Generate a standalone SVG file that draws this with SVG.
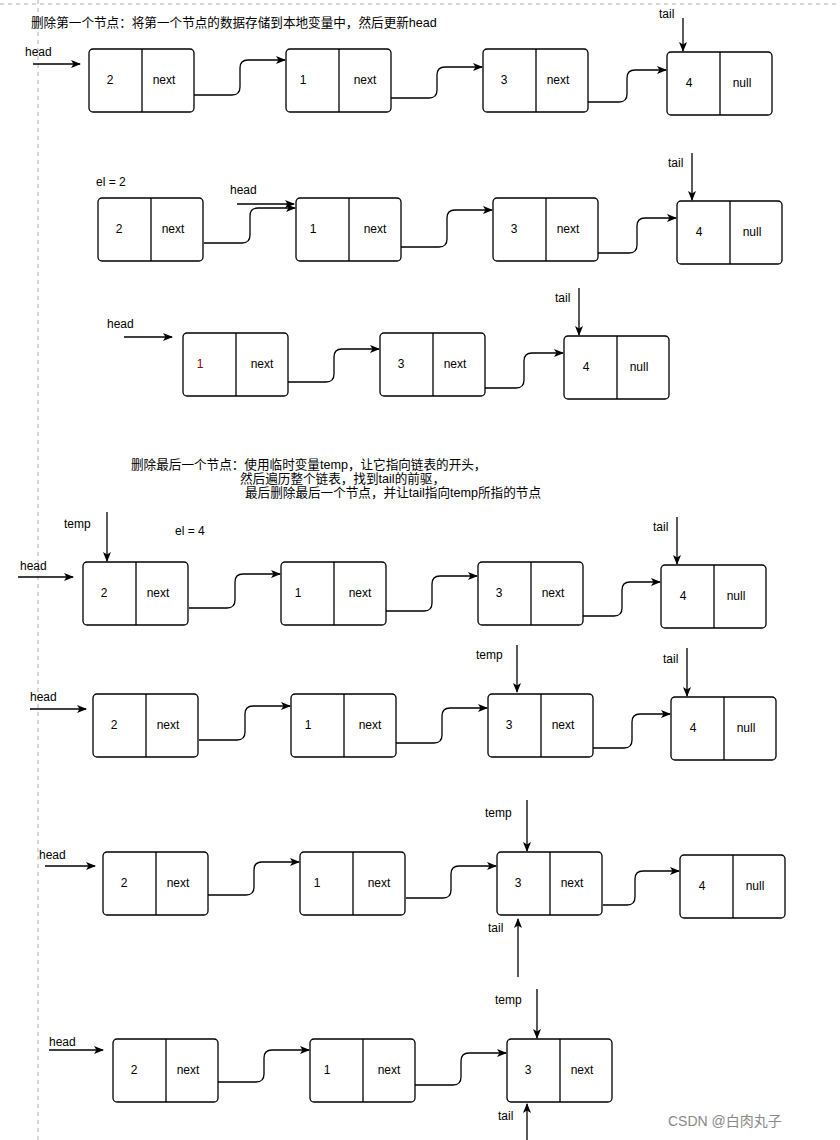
<svg xmlns="http://www.w3.org/2000/svg" width="840" height="1140" viewBox="0 0 840 1140">
<style>
.n{fill:#fff;stroke:#000;stroke-width:1.3}
.d{stroke:#000;stroke-width:1.3}
text{font-family:"Liberation Sans",Arial,"Noto Sans CJK SC",sans-serif;font-size:12px;fill:#000}
.t{font-size:12.6px}
.c{text-anchor:middle}
.e{fill:none;stroke:#000;stroke-width:1.3;marker-end:url(#a)}
.g{fill:none;stroke:#ccc;stroke-width:1.5;stroke-dasharray:4 4}
</style>
<defs>
<marker id="a" markerWidth="10" markerHeight="8" refX="9" refY="4" orient="auto" markerUnits="userSpaceOnUse"><path d="M0,0 L10,4 L0,8 L2.5,4 Z"/></marker>
<g id="nd"><rect class="n" x="0" y="0" width="105" height="63" rx="4"/><line class="d" x1="53" y1="0" x2="53" y2="63"/></g>
</defs>
<rect width="840" height="1140" fill="#fff"/>
<line class="g" x1="38" y1="0" x2="38" y2="1140"/>
<line class="g" x1="0" y1="4" x2="840" y2="4"/>
<text class="t" x="31" y="27">删除第一个节点：将第一个节点的数据存储到本地变量中，然后更新head</text>
<text class="t" x="131" y="469">删除最后一个节点：使用临时变量temp，让它指向链表的开头，</text>
<text class="t" x="240" y="483">然后遍历整个链表，找到tail的前驱，</text>
<text class="t" x="245" y="497">最后删除最后一个节点，并让tail指向temp所指的节点</text>
<text x="96" y="186">el = 2</text>
<text x="175" y="535">el = 4</text>
<g id="connectors">
<path class="e" d="M194,95 H232 Q240,95 240,87 V68 Q240,60 248,60 H285"/>
<path class="e" d="M391,98 H429 Q437,98 437,90 V75 Q437,67 445,67 H482"/>
<path class="e" d="M588,102 H619 Q627,102 627,94 V78 Q627,70 635,70 H666"/>
<path class="e" d="M204,243 H242 Q250,243 250,235 V216 Q250,208 258,208 H295"/>
<path class="e" d="M401,247 H439 Q447,247 447,239 V218 Q447,210 455,210 H492"/>
<path class="e" d="M598,253 H629 Q637,253 637,245 V226 Q637,218 645,218 H676"/>
<path class="e" d="M288,382 H326 Q334,382 334,374 V357 Q334,349 342,349 H379"/>
<path class="e" d="M485,388 H516 Q524,388 524,380 V361 Q524,353 532,353 H563"/>
<path class="e" d="M189,608 H227 Q235,608 235,600 V582 Q235,574 243,574 H280"/>
<path class="e" d="M386,611 H424 Q432,611 432,603 V584 Q432,576 440,576 H477"/>
<path class="e" d="M583,616 H614 Q622,616 622,608 V590 Q622,582 630,582 H660"/>
<path class="e" d="M199,740 H237 Q245,740 245,732 V714 Q245,706 253,706 H290"/>
<path class="e" d="M396,743 H434 Q442,743 442,735 V716 Q442,708 450,708 H487"/>
<path class="e" d="M593,748 H624 Q632,748 632,740 V722 Q632,714 640,714 H670"/>
<path class="e" d="M208,895 H246 Q254,895 254,887 V870 Q254,862 262,862 H299"/>
<path class="e" d="M406,898 H443 Q451,898 451,890 V874 Q451,866 459,866 H496"/>
<path class="e" d="M603,905 H627 Q635,905 635,897 V879 Q635,871 643,871 H679"/>
<path class="e" d="M218,1082 H256 Q264,1082 264,1074 V1058 Q264,1050 272,1050 H309"/>
<path class="e" d="M415,1085 H453 Q461,1085 461,1077 V1061 Q461,1053 469,1053 H506"/>
<path class="e" d="M33,64 H80"/><path class="e" d="M683,18 V51"/>
<path class="e" d="M237,204 H294"/><path class="e" d="M692,153 V200"/>
<path class="e" d="M124,337 H172"/><path class="e" d="M579,288 V335"/>
<path class="e" d="M107,512 V561"/><path class="e" d="M18,577 H73"/><path class="e" d="M677,517 V564"/>
<path class="e" d="M30,709 H86"/><path class="e" d="M517,645 V692"/><path class="e" d="M687,648 V696"/>
<path class="e" d="M45,866 H95"/><path class="e" d="M527,800 V851"/><path class="e" d="M518,977 V919"/>
<path class="e" d="M49,1050 H103"/><path class="e" d="M537,989 V1038"/><path class="e" d="M527,1140 V1104"/>
</g>
<g id="labels">
<text x="25" y="56">head</text><text x="659" y="18">tail</text>
<text x="230" y="194">head</text><text x="668" y="167">tail</text>
<text x="107" y="328">head</text><text x="555" y="302">tail</text>
<text x="64" y="528">temp</text><text x="20" y="570">head</text><text x="653" y="531">tail</text>
<text x="30" y="701">head</text><text x="476" y="659">temp</text><text x="663" y="663">tail</text>
<text x="39" y="859">head</text><text x="485" y="817">temp</text><text x="488" y="932">tail</text>
<text x="49" y="1046">head</text><text x="495" y="1004">temp</text><text x="498" y="1120">tail</text>
<text x="668" y="1126" style="fill:#888;font-size:14px">CSDN @白肉丸子</text>
</g>
<g id="r1">
<g id="r1n1" transform="translate(89,49)"><use href="#nd"/><text class="c" x="21" y="35">2</text><text class="c" x="75" y="35">next</text></g>
<g id="r1n2" transform="translate(286,49)"><use href="#nd"/><text class="c" x="17" y="35">1</text><text class="c" x="79" y="35">next</text></g>
<g id="r1n3" transform="translate(483,49)"><use href="#nd"/><text class="c" x="21" y="35">3</text><text class="c" x="75" y="35">next</text></g>
<g id="r1n4" transform="translate(667,52)"><use href="#nd"/><text class="c" x="22" y="35">4</text><text class="c" x="75" y="35">null</text></g>
</g>
<g id="r2">
<g id="r2n1" transform="translate(98,198)"><use href="#nd"/><text class="c" x="21" y="35">2</text><text class="c" x="75" y="35">next</text></g>
<g id="r2n2" transform="translate(296,198)"><use href="#nd"/><text class="c" x="17" y="35">1</text><text class="c" x="79" y="35">next</text></g>
<g id="r2n3" transform="translate(493,198)"><use href="#nd"/><text class="c" x="21" y="35">3</text><text class="c" x="75" y="35">next</text></g>
<g id="r2n4" transform="translate(677,201)"><use href="#nd"/><text class="c" x="22" y="35">4</text><text class="c" x="75" y="35">null</text></g>
</g>
<g id="r3">
<g id="r3n1" transform="translate(183,333)"><use href="#nd"/><text class="c" x="17" y="35" style="fill:#800">1</text><text class="c" x="79" y="35">next</text></g>
<g id="r3n2" transform="translate(380,333)"><use href="#nd"/><text class="c" x="21" y="35">3</text><text class="c" x="75" y="35">next</text></g>
<g id="r3n3" transform="translate(564,336)"><use href="#nd"/><text class="c" x="22" y="35">4</text><text class="c" x="75" y="35">null</text></g>
</g>
<g id="r4">
<g id="r4n1" transform="translate(83,562)"><use href="#nd"/><text class="c" x="21" y="35">2</text><text class="c" x="75" y="35">next</text></g>
<g id="r4n2" transform="translate(281,562)"><use href="#nd"/><text class="c" x="17" y="35">1</text><text class="c" x="79" y="35">next</text></g>
<g id="r4n3" transform="translate(478,562)"><use href="#nd"/><text class="c" x="21" y="35">3</text><text class="c" x="75" y="35">next</text></g>
<g id="r4n4" transform="translate(661,565)"><use href="#nd"/><text class="c" x="22" y="35">4</text><text class="c" x="75" y="35">null</text></g>
</g>
<g id="r5">
<g id="r5n1" transform="translate(93,694)"><use href="#nd"/><text class="c" x="21" y="35">2</text><text class="c" x="75" y="35">next</text></g>
<g id="r5n2" transform="translate(291,694)"><use href="#nd"/><text class="c" x="17" y="35">1</text><text class="c" x="79" y="35">next</text></g>
<g id="r5n3" transform="translate(488,694)"><use href="#nd"/><text class="c" x="21" y="35">3</text><text class="c" x="75" y="35">next</text></g>
<g id="r5n4" transform="translate(671,697)"><use href="#nd"/><text class="c" x="22" y="35">4</text><text class="c" x="75" y="35">null</text></g>
</g>
<g id="r6">
<g id="r6n1" transform="translate(103,852)"><use href="#nd"/><text class="c" x="21" y="35">2</text><text class="c" x="75" y="35">next</text></g>
<g id="r6n2" transform="translate(300,852)"><use href="#nd"/><text class="c" x="17" y="35">1</text><text class="c" x="79" y="35">next</text></g>
<g id="r6n3" transform="translate(497,852)"><use href="#nd"/><text class="c" x="21" y="35">3</text><text class="c" x="75" y="35">next</text></g>
<g id="r6n4" transform="translate(680,855)"><use href="#nd"/><text class="c" x="22" y="35">4</text><text class="c" x="75" y="35">null</text></g>
</g>
<g id="r7">
<g id="r7n1" transform="translate(113,1039)"><use href="#nd"/><text class="c" x="21" y="35">2</text><text class="c" x="75" y="35">next</text></g>
<g id="r7n2" transform="translate(310,1039)"><use href="#nd"/><text class="c" x="17" y="35">1</text><text class="c" x="79" y="35">next</text></g>
<g id="r7n3" transform="translate(507,1039)"><use href="#nd"/><text class="c" x="21" y="35">3</text><text class="c" x="75" y="35">next</text></g>
</g>
</svg>
